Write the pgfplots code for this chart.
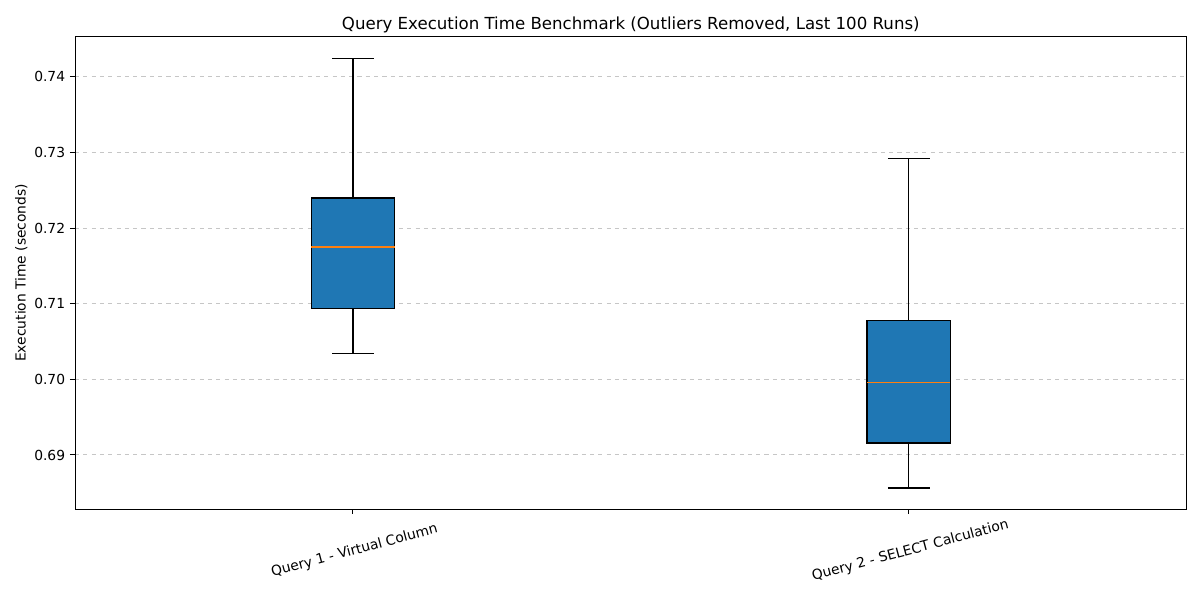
\documentclass[border=0pt]{standalone}
\usepackage{fontspec}
\setmainfont{DejaVu Sans}
\usepackage{pgfplots}
\pgfplotsset{compat=1.18}
\usepgfplotslibrary{statistics}
\definecolor{boxblue}{HTML}{1F77B4}
\definecolor{medorange}{HTML}{FF7F0E}
\begin{document}
\begin{tikzpicture}[x=0.01in,y=0.01in]
\path[use as bounding box] (-75,-91) rectangle (1125,509);
\begin{axis}[
  at={(0,0)}, anchor=south west,
  scale only axis,
  width=11.11in, height=4.72in,
  xmin=0.5, xmax=2.5,
  ymin=0.68286, ymax=0.74529,
  xtick={1,2},
  xticklabels={Query 1 - Virtual Column, Query 2 - SELECT Calculation},
  xticklabel style={rotate=15, anchor=center, yshift=-0.36in, xshift=-0.08in, font=\fontsize{10}{12}\selectfont},
  ytick={0.69,0.70,0.71,0.72,0.73,0.74},
  yticklabel style={font=\fontsize{10}{12}\selectfont, /pgf/number format/fixed, /pgf/number format/fixed zerofill, /pgf/number format/precision=2},
  /pgf/number format/assume math mode=true,
  xtick pos=lower, ytick pos=left,
  tick align=outside,
  major tick length=0.05in,
  tick style={black, line width=0.7pt},
  axis line style={line width=0.7pt},
  ymajorgrids,
  grid style={dashed, color=gray!45, line width=0.7pt},
  title={Query Execution Time Benchmark (Outliers Removed, Last 100 Runs)},
  title style={font=\fontsize{12}{14}\selectfont, yshift=-6.5pt},
  ylabel={Execution Time (seconds)},
  ylabel style={font=\fontsize{10}{12}\selectfont, yshift=-2pt},
  boxplot/draw direction=y,
  boxplot/box extend=0.15,
  boxplot/whisker extend=0.075,
  boxplot/every median/.style={draw=medorange, line width=0.9pt},
  boxplot/every box/.style={fill=boxblue, draw=black, line width=0.9pt},
  boxplot/every whisker/.style={draw=black, line width=0.9pt},
]
\addplot+[boxplot prepared={
    draw position=1,
    lower whisker=0.70344, lower quartile=0.70934,
    median=0.71749,
    upper quartile=0.72397, upper whisker=0.74238},
  draw=black, solid, mark=none]
  coordinates {};
\addplot+[boxplot prepared={
    draw position=2,
    lower whisker=0.68563, lower quartile=0.69159,
    median=0.69960,
    upper quartile=0.70775, upper whisker=0.72921},
  draw=black, solid, mark=none]
  coordinates {};
\end{axis}
\end{tikzpicture}
\end{document}
